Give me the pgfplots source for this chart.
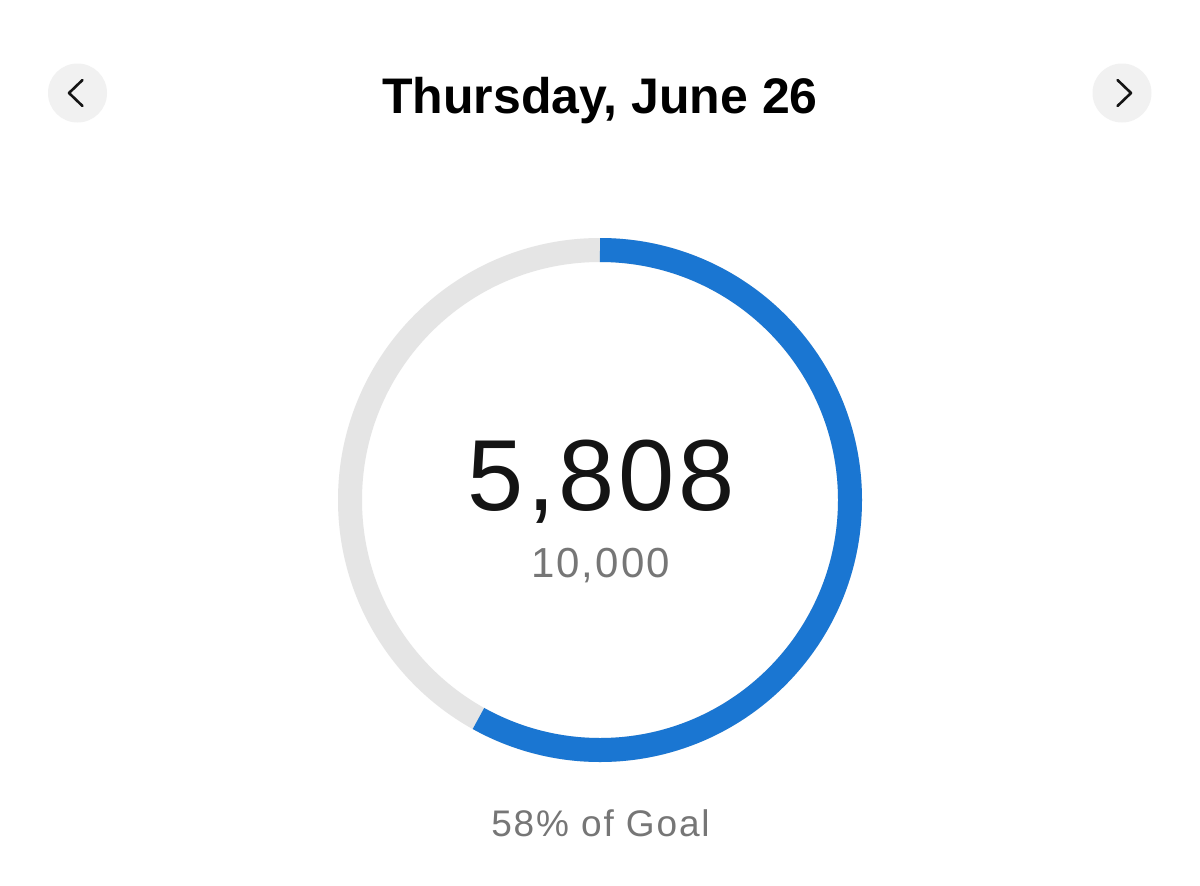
\documentclass[border=0pt]{standalone}
\usepackage{pgfplots}
\pgfplotsset{compat=1.18}
\usepackage{fontspec}
\setmainfont{Liberation Sans}
\definecolor{ringblue}{HTML}{1A76D2}
\definecolor{ringgray}{HTML}{E5E5E5}
\definecolor{btngray}{HTML}{F1F1F1}
\definecolor{subgray}{HTML}{767676}
\definecolor{ink}{HTML}{141414}

% daily steps and goal
\def\steps{5808}
\def\goal{10000}

\begin{document}
\begin{tikzpicture}
\pgfmathsetmacro{\sweep}{\steps/\goal*360}
\pgfmathsetmacro{\endang}{90-\sweep}
\begin{axis}[
    width=1200pt, height=886pt, scale only axis,
    xmin=0, xmax=1200, ymin=0, ymax=886,
    y dir=reverse,
    hide axis,
    clip=false,
]
    \fill[white] (axis cs:0,0) rectangle (axis cs:1200,886);

    % header buttons
    \fill[btngray] (axis cs:77.5,93) circle[radius=29.5pt];
    \fill[btngray] (axis cs:1122,93) circle[radius=29.5pt];
    \draw[ink, line width=2.6pt, line cap=round, line join=round]
        (axis cs:82.5,80) -- (axis cs:69,93) -- (axis cs:82.5,106);
    \draw[ink, line width=2.6pt, line cap=round, line join=round]
        (axis cs:1117.5,80) -- (axis cs:1131,93) -- (axis cs:1117.5,106);

    \node[anchor=base, inner sep=0pt, text=black]
        at (axis cs:600,113) {\fontsize{50}{58}\selectfont\bfseries Thursday, June 26};

    % progress ring
    \draw[ringgray, line width=24pt] (axis cs:600,500) circle[radius=250pt];
    \draw[ringblue, line width=24pt, line cap=butt]
        (axis cs:600,250) arc[start angle=90, end angle=\endang, radius=250pt];

    \node[anchor=base, inner sep=0pt, text=ink]
        at (axis cs:601,510) {\fontsize{101}{110}\selectfont\addfontfeature{LetterSpace=3.5}5,808};
    \node[anchor=base, inner sep=0pt, text=subgray]
        at (axis cs:600.5,577) {\fontsize{42}{48}\selectfont\addfontfeature{LetterSpace=5}10,000};
    \node[anchor=base, inner sep=0pt, text=subgray]
        at (axis cs:600.5,836) {\fontsize{37}{44}\selectfont\addfontfeature{LetterSpace=5}58\% of Goal};
\end{axis}
\end{tikzpicture}
\end{document}
